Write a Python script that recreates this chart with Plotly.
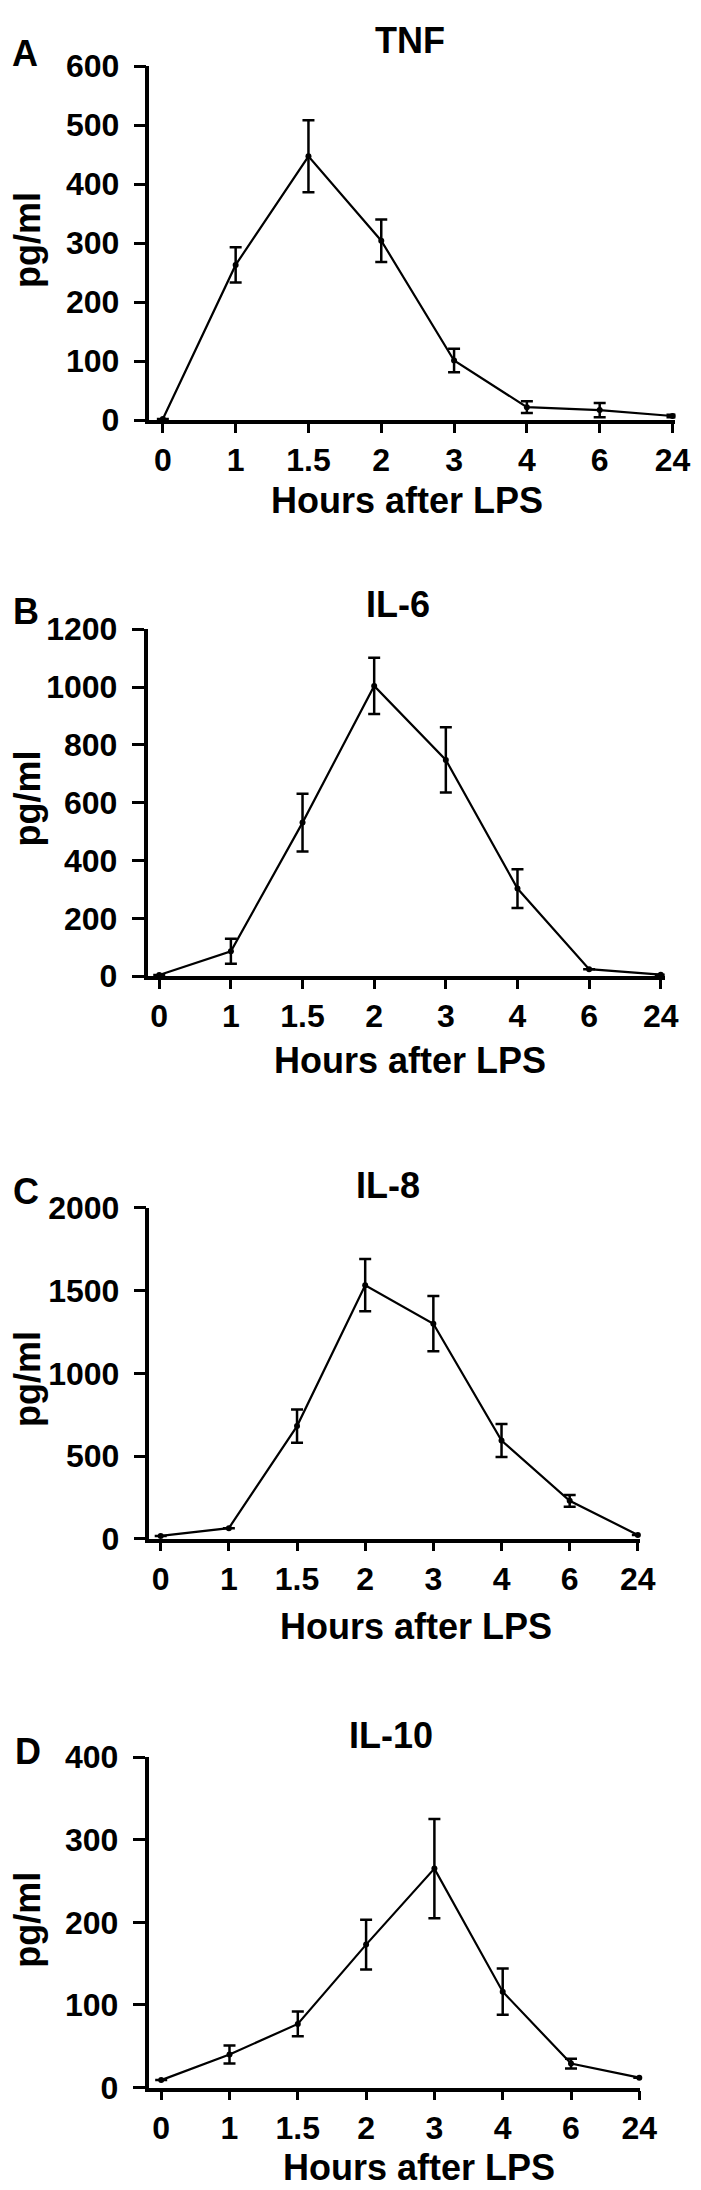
import plotly.graph_objects as go

# time points (categorical x axis)
hours = ["0", "1", "1.5", "2", "3", "4", "6", "24"]

tnf_mean = [2, 263, 447, 304, 101, 22, 17, 7]
tnf_sem = [0, 30, 61, 36, 20, 10, 12, 2]

il6_mean = [4, 86, 531, 1004, 748, 303, 24, 5]
il6_sem = [0, 43, 100, 97, 113, 67, 0, 0]

il8_mean = [17, 64, 681, 1533, 1300, 594, 229, 23]
il8_sem = [0, 0, 100, 158, 167, 100, 35, 0]

il10_mean = [9, 40, 77, 173, 265, 116, 29, 12]
il10_sem = [0, 11, 15, 30, 60, 28, 6, 0]

titles = ["TNF", "IL-6", "IL-8", "IL-10"]
letters = ["A", "B", "C", "D"]
ymax = [600, 1200, 2000, 400]
ydtick = [100, 200, 500, 100]

means = [tnf_mean, il6_mean, il8_mean, il10_mean]
sems = [tnf_sem, il6_sem, il8_sem, il10_sem]

W, H = 701, 2190
FONT = "Liberation Sans, Arial, sans-serif"

# pixel geometry of each panel
# (axis left, axis right, y top, y bottom, first cat x, last cat x)
geom = [
    (145, 684, 40.7, 400.7, 158.7, 681),
    (143, 673, 613.3, 966, 155, 669),
    (145, 648, 1201.7, 1538, 156.5, 645.5),
    (144, 648, 1760, 2096, 157, 647),
]
# letter (x,y), title (x,y), hours label (x,y), pg/ml y
labels_pos = [
    ((17, 28), (412, 15), (409, 482), 218),
    ((18, 595), (400, 588), (412, 1052), 786),
    ((18, 1185), (389, 1179), (418, 1627), 1376),
    ((20, 1754), (393, 1738), (421, 2177), 1926),
]


def px_x(p):
    return p / W


def px_y(p):
    return 1 - p / H


fig = go.Figure()
annotations = []

for i in range(4):
    n = "" if i == 0 else str(i + 1)
    left, right, top, bottom, c0, c7 = geom[i]
    sp = (c7 - c0) / 7
    xr = [-(c0 - left) / sp, 7 + (right - c7) / sp]

    fig.add_trace(go.Scatter(
        x=hours, y=means[i],
        mode="lines+markers",
        line=dict(color="black", width=2.2),
        marker=dict(color="black", size=6),
        error_y=dict(type="data", array=sems[i], color="black",
                     thickness=2.5, width=6),
        cliponaxis=False,
        showlegend=False,
        xaxis="x" + n, yaxis="y" + n,
    ))

    fig.update_layout(**{
        "xaxis" + n: dict(
            domain=[px_x(left), px_x(right)],
            anchor="y" + n,
            type="category",
            range=xr,
            showline=True, linecolor="black", linewidth=3.5,
            ticks="outside", ticklen=9, tickwidth=3, tickcolor="black",
            tickfont=dict(family=FONT, size=32, color="black", weight="bold"),
            ticklabelstandoff=0,
            showgrid=False, zeroline=False, fixedrange=True,
        ),
        "yaxis" + n: dict(
            domain=[px_y(bottom), px_y(top)],
            anchor="x" + n,
            range=[0, ymax[i]],
            dtick=ydtick[i],
            showline=True, linecolor="black", linewidth=3.5,
            ticks="outside", ticklen=12, tickwidth=3, tickcolor="black",
            tickfont=dict(family=FONT, size=32, color="black", weight="bold"),
            ticklabelstandoff=8,
            showgrid=False, zeroline=False, fixedrange=True,
        ),
    })

    (lx, ly), (tx, ty), (hx, hy), pgy = labels_pos[i]
    txt = dict(family=FONT, size=36, color="black", weight="bold")
    annotations += [
        dict(text=letters[i], x=px_x(lx), y=px_y(ly), font=txt),
        dict(text=titles[i], x=px_x(tx), y=px_y(ty), font=txt),
        dict(text="Hours after LPS", x=px_x(hx), y=px_y(hy), font=txt),
        dict(text="pg/ml", x=px_x(20), y=px_y(pgy), font=txt, textangle=-90),
    ]

for a in annotations:
    a.update(xref="paper", yref="paper", showarrow=False,
             xanchor="center", yanchor="middle")

fig.update_layout(
    width=W, height=H,
    margin=dict(l=0, r=0, t=0, b=0),
    plot_bgcolor="white", paper_bgcolor="white",
    annotations=annotations,
)

fig.write_html("out.html")
